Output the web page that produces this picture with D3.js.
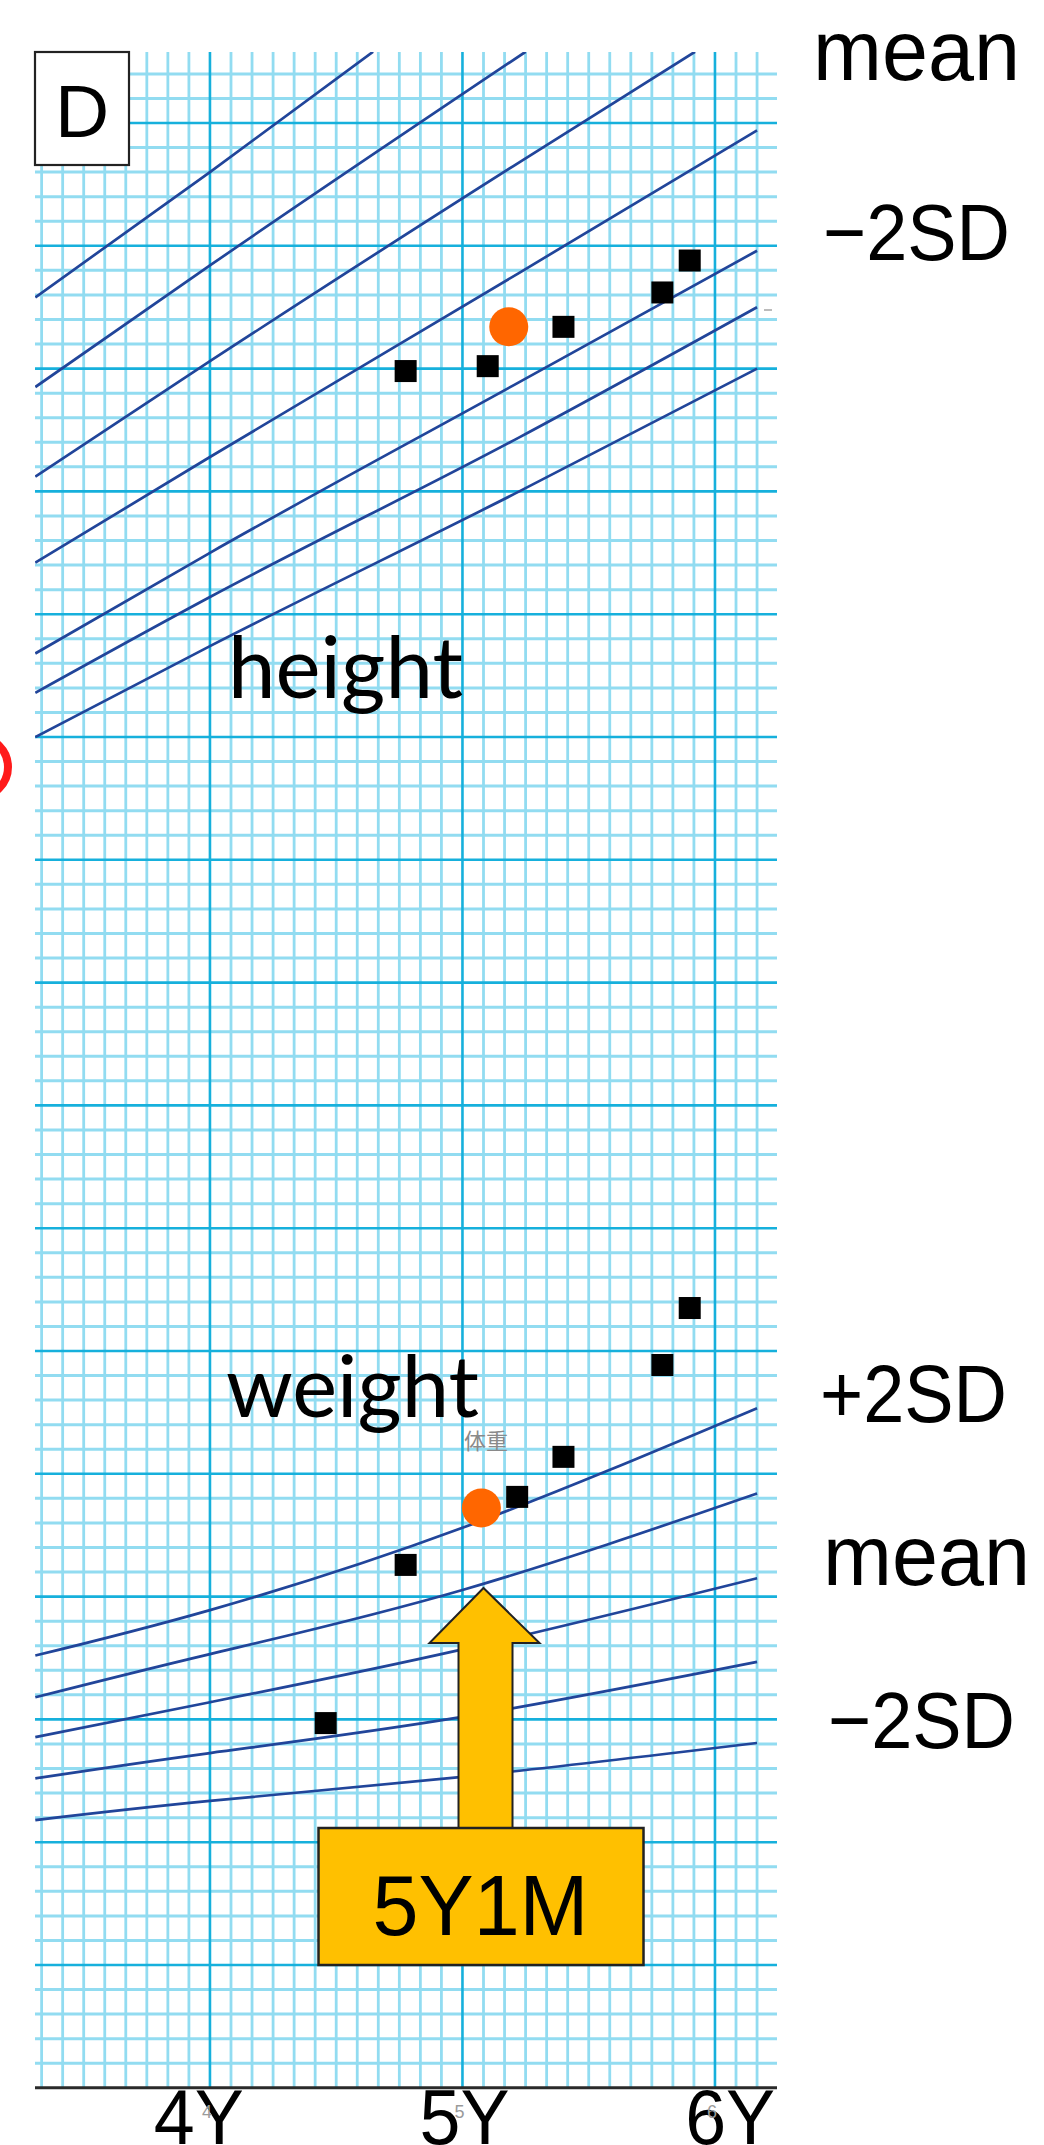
<!DOCTYPE html>
<html>
<head>
<meta charset="utf-8">
<script src="https://cdn.jsdelivr.net/npm/d3@7"></script>
<style>
html,body{margin:0;padding:0;background:#fff;}
svg{display:block;}
</style>
</head>
<body>
<svg id="chart" width="1044" height="2145"></svg>
<script>
// ---------------- DATA (ages in months, height in cm, weight in kg) ----------------
const xTickAges   = [48, 60, 72];
const xTickLabels = ["4Y", "5Y", "6Y"];
const xTickSmall  = ["4", "5", "6"];

const hAgesPlus2  = [39.7, 48, 55.75];
const hPlus2      = [102.9, 108.0, 112.9];
const hAgesPlus1  = [39.7, 48, 63];
const hPlus1      = [99.25, 104.2, 112.9];
const hAgesMean   = [39.7, 48, 62.7, 71.05];
const hMean       = [95.6, 100.3, 108.4, 112.9];
const hAgesLow    = [39.7, 48, 62.7, 74];
const hMinus1     = [92.1, 96.4, 103.9, 109.7];
const hMinus2     = [88.4, 92.5, 99.45, 104.8];
const hMinus25    = [86.8, 90.7, 97.2, 102.5];
const hMinus3     = [85.0, 88.7, 95.0, 100.0];

// Weight reference curves
const wCurveAges  = [39.7, 48, 60, 74];
const wPlus2      = [17.6, 19.45, 22.8, 27.67];
const wPlus1      = [15.9, 17.66, 20.27, 24.2];
const wMean       = [14.28, 15.7, 17.85, 20.75];
const wMinus1     = [12.6, 13.63, 15.1, 17.34];
const wMinus2     = [10.9, 11.68, 12.66, 14.04];

// Patient measurements
const heightAges  = [57.3, 61.2, 64.8, 69.5, 70.8];
const heightVals  = [99.9, 100.1, 101.7, 103.1, 104.4];
const weightAges  = [53.5, 57.3, 62.6, 64.8, 69.5, 70.8];
const weightVals  = [14.85, 21.29, 24.06, 25.69, 29.43, 31.75];
const nowHeightAge = 62.2, nowHeight = 101.7;
const nowWeightAge = 60.9, nowWeight = 23.61;

const arrowAge = 61;
const arrowLabel = "5Y1M";
const panelLabel = "D";
const heightLabels = ["mean", "\u22122SD"];
const weightLabels = ["+2SD", "mean", "\u22122SD"];

// ---------------- LAYOUT ----------------
const svg = d3.select("#chart");
const P = {left: 35, right: 777, top: 52, bottom: 2088};

const x  = d3.scaleLinear().domain([39.7, 75]).range([35.3, 778.1]);
const yH = d3.scaleLinear().domain([30, 110]).range([2087.8, 123]);
const yW = d3.scaleLinear().domain([0, 15]).range([2087.8, 1719.4]);

svg.append("rect").attr("width", 1044).attr("height", 2145).attr("fill", "#fff");

svg.append("defs").append("clipPath").attr("id", "plotclip")
  .append("rect").attr("x", P.left).attr("y", P.top)
  .attr("width", P.right - P.left).attr("height", P.bottom - P.top);

// ---------------- GRID ----------------
const grid = svg.append("g");
const hVals = d3.range(31, 113);
const mVals = d3.range(40, 75);
const minorCol = "#92dcf1", majorCol = "#16b0dc";

grid.selectAll("line.hmin").data(hVals.filter(v => v % 5 !== 0)).join("line")
  .attr("x1", P.left).attr("x2", P.right)
  .attr("y1", d => yH(d)).attr("y2", d => yH(d))
  .attr("stroke", minorCol).attr("stroke-width", 3);
grid.selectAll("line.vmin").data(mVals.filter(v => v % 12 !== 0)).join("line")
  .attr("y1", P.top).attr("y2", P.bottom)
  .attr("x1", d => x(d)).attr("x2", d => x(d))
  .attr("stroke", minorCol).attr("stroke-width", 2.8);
grid.selectAll("line.hmaj").data(hVals.filter(v => v % 5 === 0)).join("line")
  .attr("x1", P.left).attr("x2", P.right)
  .attr("y1", d => yH(d)).attr("y2", d => yH(d))
  .attr("stroke", majorCol).attr("stroke-width", 2.6);
grid.selectAll("line.vmaj").data(mVals.filter(v => v % 12 === 0)).join("line")
  .attr("y1", P.top).attr("y2", P.bottom)
  .attr("x1", d => x(d)).attr("x2", d => x(d))
  .attr("stroke", majorCol).attr("stroke-width", 2.6);

// ---------------- CURVES ----------------
const curveCol = "#21459a";
const curves = svg.append("g").attr("clip-path", "url(#plotclip)");
const lineH = d3.line().x(d => x(d[0])).y(d => yH(d[1])).curve(d3.curveMonotoneX);
const lineW = d3.line().x(d => x(d[0])).y(d => yW(d[1])).curve(d3.curveNatural);

const hSeries = [
  [hAgesPlus2, hPlus2], [hAgesPlus1, hPlus1], [hAgesMean, hMean],
  [hAgesLow, hMinus1], [hAgesLow, hMinus2], [hAgesLow, hMinus25], [hAgesLow, hMinus3]
];
hSeries.forEach(([ages, vals]) => {
  curves.append("path").attr("d", lineH(ages.map((a, i) => [a, vals[i]])))
    .attr("fill", "none").attr("stroke", curveCol).attr("stroke-width", 2.7);
});
[wPlus2, wPlus1, wMean, wMinus1, wMinus2].forEach(vals => {
  curves.append("path").attr("d", lineW(wCurveAges.map((a, i) => [a, vals[i]])))
    .attr("fill", "none").attr("stroke", curveCol).attr("stroke-width", 2.7);
});

// ---------------- AXIS ----------------
svg.append("line").attr("x1", P.left).attr("x2", P.right)
  .attr("y1", yH(30)).attr("y2", yH(30))
  .attr("stroke", "#2a2a2a").attr("stroke-width", 3);

const font = "'Liberation Sans', Arial, sans-serif";
svg.selectAll("text.xt").data(xTickAges).join("text")
  .attr("x", d => x(d) + 2 + (d - 60) * 1.1).attr("y", 2144)
  .attr("text-anchor", "middle")
  .attr("font-family", font).attr("font-size", 78)
  .attr("textLength", 90).attr("lengthAdjust", "spacingAndGlyphs")
  .attr("fill", "#000")
  .text((d, i) => xTickLabels[i]);
svg.selectAll("text.xs").data(xTickAges).join("text")
  .attr("x", d => x(d) - 3).attr("y", 2118)
  .attr("text-anchor", "middle")
  .attr("font-family", font).attr("font-size", 18)
  .attr("fill", "#9a9a9a")
  .text((d, i) => xTickSmall[i]);

// ---------------- TEXT LABELS ----------------
svg.append("text").attr("x", 813).attr("y", 80)
  .attr("font-family", font).attr("font-size", 86)
  .attr("textLength", 207).attr("lengthAdjust", "spacingAndGlyphs")
  .text(heightLabels[0]);
svg.append("text").attr("x", 823).attr("y", 260)
  .attr("font-family", font).attr("font-size", 80)
  .attr("textLength", 187).attr("lengthAdjust", "spacingAndGlyphs")
  .text(heightLabels[1]);

const wLabelPos = [[820, 1422, 187, 82], [823, 1585, 207, 86], [828, 1748, 187, 80]];
weightLabels.forEach((t, i) => {
  const [lx, ly, tl, fs] = wLabelPos[i];
  svg.append("text").attr("x", lx).attr("y", ly)
    .attr("font-family", font).attr("font-size", fs)
    .attr("textLength", tl).attr("lengthAdjust", "spacingAndGlyphs")
    .text(t);
});

const font2 = "Lato, 'Open Sans', sans-serif";
svg.append("text").attr("x", 228).attr("y", 698)
  .attr("font-family", font2).attr("font-size", 86)
  .attr("textLength", 235).attr("lengthAdjust", "spacingAndGlyphs")
  .text("height");
svg.append("text").attr("x", 226).attr("y", 1417)
  .attr("font-family", font2).attr("font-size", 86)
  .attr("textLength", 253).attr("lengthAdjust", "spacingAndGlyphs")
  .text("weight");

svg.append("text").attr("x", 486).attr("y", 1449)
  .attr("text-anchor", "middle")
  .attr("font-family", "'Noto Sans CJK JP', sans-serif").attr("font-size", 22)
  .attr("fill", "#8a8a8a").text("体重");

svg.append("line").attr("x1", 764).attr("x2", 772).attr("y1", 310).attr("y2", 310)
  .attr("stroke", "#bbb").attr("stroke-width", 2);

// ---------------- PANEL LABEL ----------------
svg.append("rect").attr("x", 35).attr("y", 52).attr("width", 94).attr("height", 113)
  .attr("fill", "#fff").attr("stroke", "#222").attr("stroke-width", 2.2);
svg.append("text").attr("x", 82).attr("y", 137).attr("text-anchor", "middle")
  .attr("font-family", font).attr("font-size", 75).text(panelLabel);

// red ring at left edge
svg.append("circle").attr("cx", -22).attr("cy", 767).attr("r", 30)
  .attr("fill", "none").attr("stroke", "#ff1a1a").attr("stroke-width", 8);

// ---------------- MEASUREMENTS ----------------
const sq = 22;
svg.selectAll("rect.hp").data(heightAges).join("rect")
  .attr("x", (d) => x(d) - sq / 2).attr("y", (d, i) => yH(heightVals[i]) - sq / 2)
  .attr("width", sq).attr("height", sq).attr("fill", "#000");
svg.selectAll("rect.wp").data(weightAges).join("rect")
  .attr("x", (d) => x(d) - sq / 2).attr("y", (d, i) => yW(weightVals[i]) - sq / 2)
  .attr("width", sq).attr("height", sq).attr("fill", "#000");

svg.append("circle").attr("cx", x(nowHeightAge)).attr("cy", yH(nowHeight)).attr("r", 19.5)
  .attr("fill", "#ff6600");
svg.append("circle").attr("cx", x(nowWeightAge)).attr("cy", yW(nowWeight)).attr("r", 19.5)
  .attr("fill", "#ff6600");

// ---------------- ARROW ANNOTATION ----------------
const ax = x(arrowAge);
const tipY = yW(20.35), headY = tipY + 55, shaftBottom = tipY + 240;
const arrowPts = [
  [ax, tipY], [ax + 56, headY], [ax + 29, headY], [ax + 29, shaftBottom],
  [ax - 25, shaftBottom], [ax - 25, headY], [ax - 54, headY]
];
svg.append("polygon").attr("points", arrowPts.map(p => p.join(",")).join(" "))
  .attr("fill", "#ffc000").attr("stroke", "#222").attr("stroke-width", 2);
svg.append("rect").attr("x", ax - 165).attr("y", shaftBottom)
  .attr("width", 325).attr("height", 137)
  .attr("fill", "#ffc000").attr("stroke", "#222").attr("stroke-width", 2.5);
svg.append("text").attr("x", ax - 3).attr("y", shaftBottom + 107)
  .attr("text-anchor", "middle")
  .attr("font-family", font).attr("font-size", 86)
  .attr("textLength", 216).attr("lengthAdjust", "spacingAndGlyphs")
  .text(arrowLabel);
</script>
</body>
</html>
